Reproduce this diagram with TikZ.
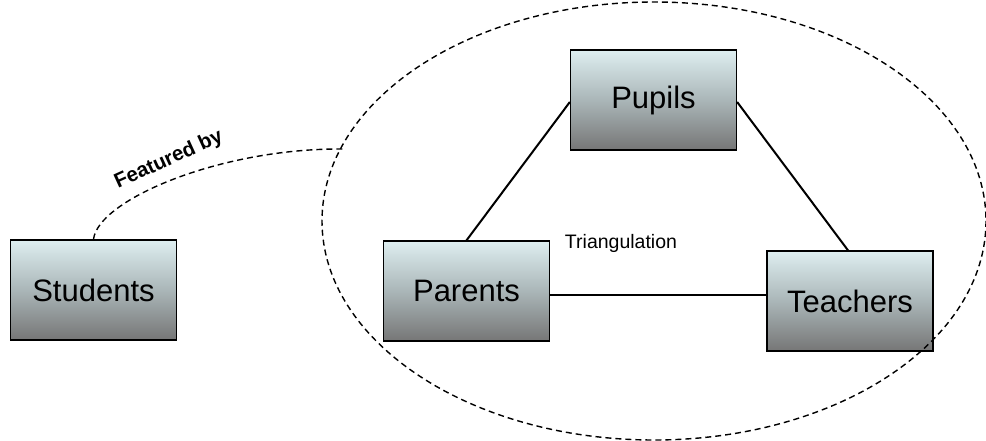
\documentclass[tikz,border=0pt]{standalone}
\usepackage{fontspec}
\setmainfont{Liberation Sans}
\begin{document}
\begin{tikzpicture}[x=1pt,y=-1pt,
  gbox/.style={draw=black,line width=1.3pt,top color=boxtop,bottom color=boxbot,middle color=boxmid,
    minimum width=166pt,minimum height=100pt,inner sep=0pt,font=\fontsize{31}{34}\selectfont},
  link/.style={line width=2pt},
  dashline/.style={dash pattern=on 6pt off 4pt,line width=1.4pt}]
\definecolor{boxtop}{RGB}{222,238,240}
\definecolor{boxmid}{RGB}{170,182,184}
\definecolor{boxbot}{RGB}{118,118,118}
\useasboundingbox (0,0) rectangle (986,441);
\fill[white] (0,0) rectangle (986,441);
\node[gbox] (students) at (93.5,290) {Students};
\node[gbox] (pupils) at (653.5,100) {Pupils};
\node[gbox] (parents) at (466.5,291) {Parents};
\node[gbox] (teachers) at (850,301) {Teachers};
\node[font=\fontsize{19.5}{23}\selectfont] (tri) at (621,243) {Triangulation};
\draw[dashline] (654,221) ellipse [x radius=332, y radius=219];
\coordinate (fe) at (343,149);
\draw[link] ([yshift=-2pt]pupils.west) -- (parents.north);
\draw[link] ([yshift=-2pt]pupils.east) -- ([xshift=-2pt]teachers.north);
\draw[link] ([yshift=-4pt]parents.east) -- ([yshift=6pt]teachers.west);
\draw[dashline] (students.north) .. controls (98,200) and (220,148) .. (fe)
  node[pos=0.51,above=6pt,sloped,rotate=4,font=\bfseries\fontsize{20.5}{24}\selectfont] (feat) {Featured by};
\end{tikzpicture}
\end{document}
